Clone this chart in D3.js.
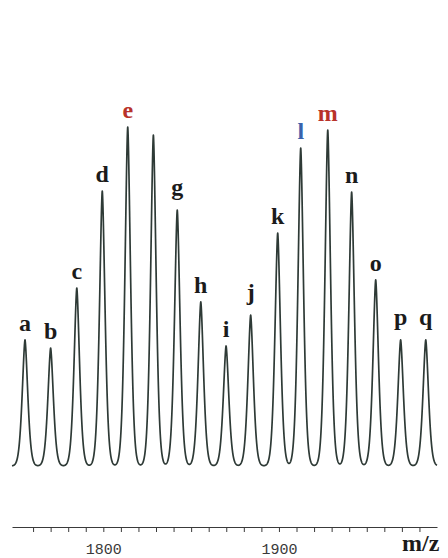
<!DOCTYPE html>
<html>
<head>
<meta charset="utf-8">
<script src="https://cdn.jsdelivr.net/npm/d3@7"></script>
<style>
  html, body { margin: 0; padding: 0; background: #fff; }
  svg { display: block; }
</style>
</head>
<body>
<svg id="chart" width="448" height="558"></svg>
<script>
// Peak labels, centroid m/z and relative intensity (%) of the ion series
const peakLabels = ["a","b","c","d","e","f","g","h","i","j","k","l","m","n","o","p","q"];
const peakMz     = [1755.4,1770.0,1784.9,1799.4,1813.9,1828.5,1842.1,1855.5,1869.9,1883.9,1899.3,1912.4,1927.8,1941.4,1955.1,1969.3,1983.6];
const peakInt    = [37.2,34.8,52.5,81.1,100,97.6,75.5,48.4,35.4,44.5,68.7,93.8,99.1,80.8,54.9,37.2,37.2];
// Labels drawn above the peaks (f is left unlabelled) and their colours
const shownLabels = ["a","b","c","d","e","g","h","i","j","k","l","m","n","o","p","q"];
const labelColors = { e: "#b8322a", m: "#b8322a", l: "#3a62ad" };
// Axis ticks
const tickValues = d3.range(1760, 1981, 10);
const tickLabels = [1800, 1900];

const svg = d3.select("#chart");

const x = d3.scaleLinear().domain([1748, 1990]).range([12, 437]);
const y = d3.scaleLinear().domain([0, 100]).range([466, 127]);

// Peak line shape: a slightly cusped Gaussian, giving sharp apexes
const width = 2.3, shapePower = 1.6;
const profile = mz => d3.sum(peakMz, (c, i) =>
  peakInt[i] * Math.exp(-Math.pow(Math.abs(mz - c) / width, shapePower)));
const trace = d3.range(1748, 1990.01, 0.05).map(mz => [mz, profile(mz)]);

svg.append("path")
  .datum(trace)
  .attr("fill", "none")
  .attr("stroke", "#2e3a36")
  .attr("stroke-width", 1.7)
  .attr("stroke-linejoin", "round")
  .attr("d", d3.line().x(d => x(d[0])).y(d => y(d[1])));

// Peak letters
const descender = /[gjpq]/;
svg.append("g")
  .selectAll("text")
  .data(shownLabels)
  .join("text")
  .attr("x", l => x(peakMz[peakLabels.indexOf(l)]))
  .attr("y", l => y(peakInt[peakLabels.indexOf(l)]) - (descender.test(l) ? 15 : 9))
  .attr("text-anchor", "middle")
  .attr("font-family", "'Liberation Serif', 'Times New Roman', serif")
  .attr("font-weight", "bold")
  .attr("font-size", 24)
  .attr("fill", l => labelColors[l] || "#1b1b1b")
  .text(l => l);

// m/z axis
const axis = d3.axisBottom(x)
  .tickValues(tickValues)
  .tickSize(5)
  .tickSizeOuter(0)
  .tickFormat(v => tickLabels.includes(v) ? v : "");

const gAxis = svg.append("g")
  .attr("transform", "translate(0,527)")
  .call(axis);
gAxis.select(".domain").attr("stroke", "#3a3a3a").attr("stroke-width", 1.2);
gAxis.selectAll(".tick line").attr("stroke", "#3a3a3a");
gAxis.selectAll(".tick text")
  .attr("y", 16)
  .attr("font-family", "'Liberation Mono', 'DejaVu Sans Mono', monospace")
  .attr("font-size", 15)
  .attr("fill", "#3a3a3a");

svg.append("text")
  .attr("x", 402)
  .attr("y", 551)
  .attr("font-family", "'Liberation Serif', 'Times New Roman', serif")
  .attr("font-weight", "bold")
  .attr("font-size", 24)
  .attr("fill", "#1b1b1b")
  .text("m/z");
</script>
</body>
</html>
